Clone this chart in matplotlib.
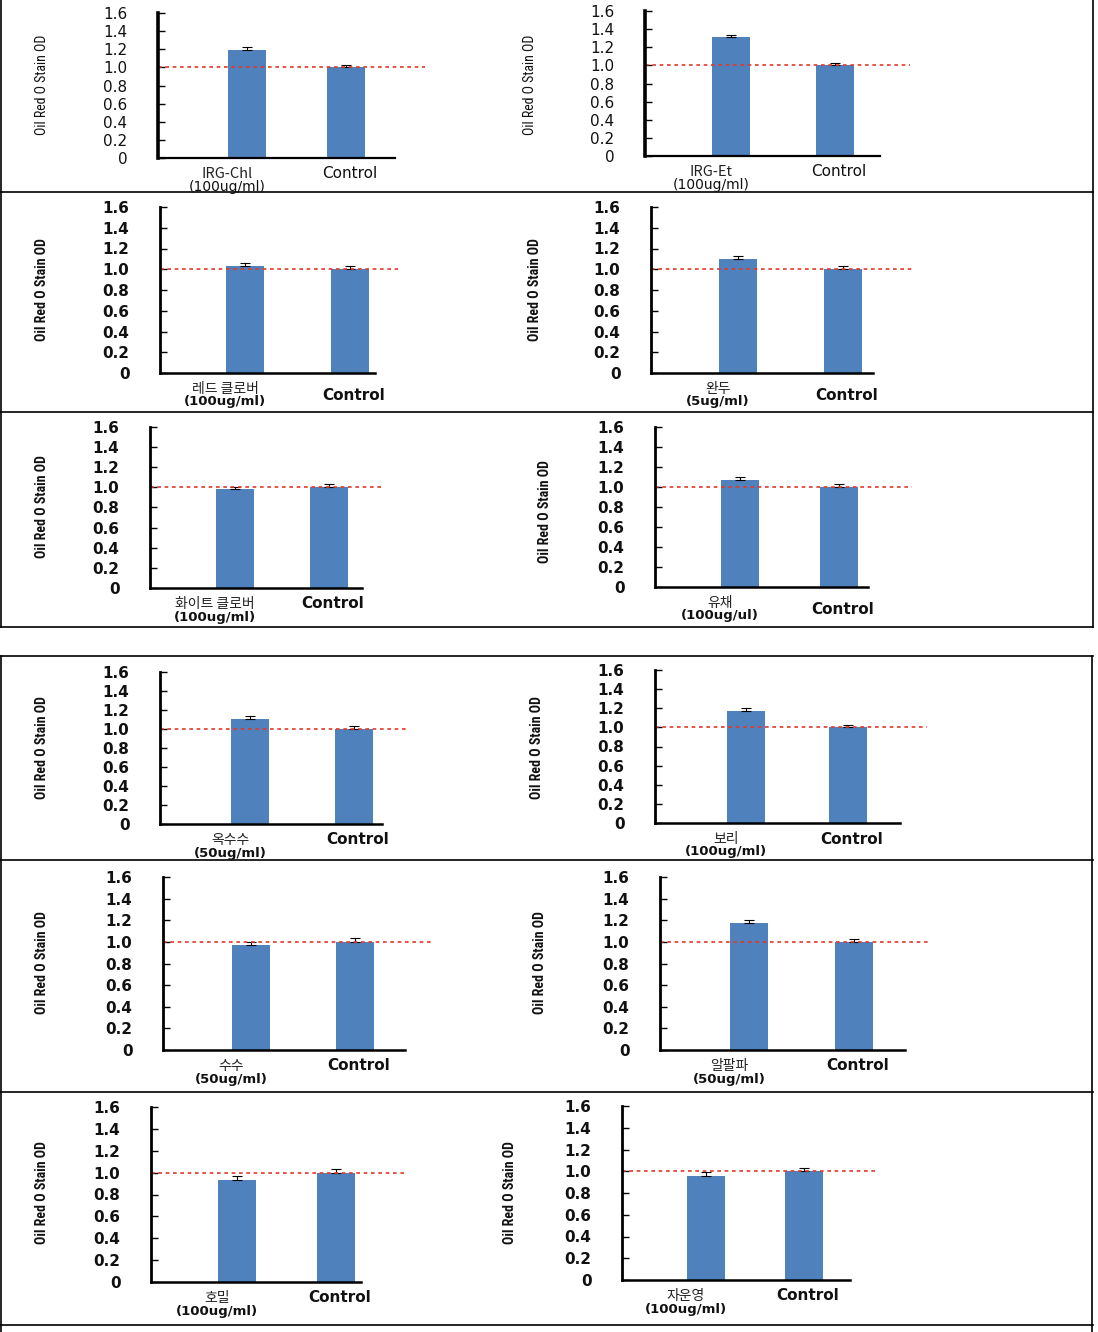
import matplotlib
matplotlib.use("Agg")
import matplotlib.pyplot as plt
from matplotlib.lines import Line2D
from matplotlib import font_manager
import numpy as np

# ---------------- data ----------------
samples = ["IRG-Chl", "IRG-Et", "레드 클로버", "완두", "화이트 클로버", "유채",
           "옥수수", "보리", "수수", "알팔파", "호밀", "자운영"]
concentrations = ["(100ug/ml)", "(100ug/ml)", "(100ug/ml)", "(5ug/ml)", "(100ug/ml)", "(100ug/ul)",
                  "(50ug/ml)", "(100ug/ml)", "(50ug/ml)", "(50ug/ml)", "(100ug/ml)", "(100ug/ml)"]
sample_values = [1.19, 1.31, 1.03, 1.10, 0.98, 1.07, 1.11, 1.17, 0.97, 1.17, 0.93, 0.96]
sample_errors = [0.03, 0.03, 0.03, 0.03, 0.02, 0.03, 0.03, 0.03, 0.03, 0.03, 0.04, 0.03]
control_label = "Control"
control_values = [1.00] * 12
control_errors = [0.03, 0.03, 0.03, 0.03, 0.03, 0.03, 0.03, 0.03, 0.04, 0.03, 0.03, 0.03]
yticks = [0, 0.2, 0.4, 0.6, 0.8, 1.0, 1.2, 1.4, 1.6]
ytick_labels = ["0", "0.2", "0.4", "0.6", "0.8", "1.0", "1.2", "1.4", "1.6"]
ylabel = "Oil Red O Stain OD"
reference_level = 1.0

# ---------------- layout (pixels) ----------------
W, H = 1098, 1332
# x0 axis, x1 spine end, xd dashed end, c1, c2 bar centres, ytop, ybot, ylabel x, ylabel y, control centred?
layout = [
    (158, 395, 425, 247, 346, 13, 158, 42, 85, False),
    (645, 880, 910, 731, 835, 11, 156, 530, 85, False),
    (160, 375, 398, 245, 350, 207, 373, 42, 290, True),
    (651, 873, 915, 738, 843, 207, 373, 535, 290, True),
    (150, 362, 383, 235, 329, 427, 588, 42, 507, False),
    (655, 868, 912, 740, 839, 427, 587, 545, 512, True),
    (160, 382, 408, 250, 354, 672, 824, 42, 748, False),
    (655, 900, 927, 746, 848, 670, 823, 537, 748, False),
    (163, 405, 432, 251, 355, 877, 1050, 42, 963, False),
    (660, 905, 930, 749, 854, 877, 1050, 540, 963, False),
    (151, 361, 405, 237, 336, 1107, 1282, 42, 1193, False),
    (622, 850, 875, 706, 804, 1106, 1280, 510, 1193, False),
]
bar_px = 38
bar_color = "#4f81bd"

# choose a condensed family if present
available = {f.name for f in font_manager.fontManager.ttflist}
cond = None
for name in ["Liberation Sans Narrow", "DejaVu Sans Condensed", "Roboto Condensed",
             "Open Sans Condensed", "Noto Sans Condensed"]:
    if name in available:
        cond = name
        break
label_family = [cond, "DejaVu Sans"] if cond else ["DejaVu Sans"]
label_size = 11.5 if cond == "Liberation Sans Narrow" else (10 if cond else 8)

fig = plt.figure(figsize=(W / 100, H / 100), dpi=100)

def fx(x):
    return x / W

def fy(y):
    return 1 - y / H

kor = ["Noto Sans CJK KR", "DejaVu Sans"]

for i, (x0, x1, xd, c1, c2, yt, yb, lx, ly, mid) in enumerate(layout):
    light = i < 2
    weight = "normal" if light else "bold"
    d = c2 - c1
    ax = fig.add_axes([fx(x0), fy(yb), (xd - x0) / W, (yb - yt) / H])
    xs = np.array([0, 1])
    vals = [sample_values[i], control_values[i]]
    errs = [sample_errors[i], control_errors[i]]
    ax.bar(xs, vals, width=bar_px / d, color=bar_color, zorder=2)
    ax.errorbar(xs, vals, yerr=[[0, 0], errs], fmt="none", ecolor="black",
                elinewidth=0.8, capsize=3.5, capthick=0.8, zorder=3)
    ax.axhline(reference_level, color="#e03a2a", linestyle=(0, (2.2, 2.2)),
               linewidth=1.2, zorder=4)
    xl = (x0 - c1) / d
    xr = (xd - c1) / d
    ax.set_xlim(xl, xr)
    ax.set_ylim(0, 1.6)
    for s in ["top", "right"]:
        ax.spines[s].set_visible(False)
    ax.spines["bottom"].set_bounds(xl, (x1 - c1) / d)
    ax.spines["left"].set_linewidth(2.6 if light else 2.0)
    ax.spines["bottom"].set_linewidth(1.6 if light else 1.8)
    ax.spines["left"].set_zorder(5)
    ax.set_xticks([])
    ax.set_yticks(yticks)
    ax.set_yticklabels(ytick_labels, fontsize=11, fontweight=weight,
                       family="DejaVu Sans", color="#111111")
    ax.tick_params(axis="y", direction="in", length=5, width=1, pad=22)
    ax.patch.set_alpha(0)

    # x labels
    base = yb + 16
    fig.text(fx(c1 - 20), fy(base), samples[i], ha="center", va="center",
             family=kor, fontsize=10.5 if light else 10, fontweight="normal",
             color="#222222")
    fig.text(fx(c1 - 20), fy(base + 13), concentrations[i], ha="center", va="center",
             family="DejaVu Sans", fontsize=10 if light else 9.5, fontweight=weight,
             color="#111111")
    cy = base + 6 if mid else base
    fig.text(fx(c2 + 4), fy(cy), control_label, ha="center", va="center",
             family="DejaVu Sans", fontsize=11, fontweight=weight, color="#111111")

    # y label
    fig.text(fx(lx), fy(ly), ylabel, rotation=90, ha="center", va="center",
             family=label_family, fontsize=label_size,
             fontweight="normal" if light else "bold", color="#111111")

# ---------------- table borders ----------------
def hline(y, xa=1, xb=1093):
    fig.add_artist(Line2D([fx(xa), fx(xb)], [fy(y), fy(y)], color="black", linewidth=1.2))

def vline(x, ya, yb):
    fig.add_artist(Line2D([fx(x), fx(x)], [fy(ya), fy(yb)], color="black", linewidth=1.2))

for y in [192, 412, 627]:
    hline(y)
vline(1, 0, 627)
vline(1093, 0, 627)
for y in [656, 860, 1092, 1325]:
    hline(y)
vline(1, 656, 1332)
vline(1092, 656, 1332)

fig.savefig("out.png", dpi=100)
